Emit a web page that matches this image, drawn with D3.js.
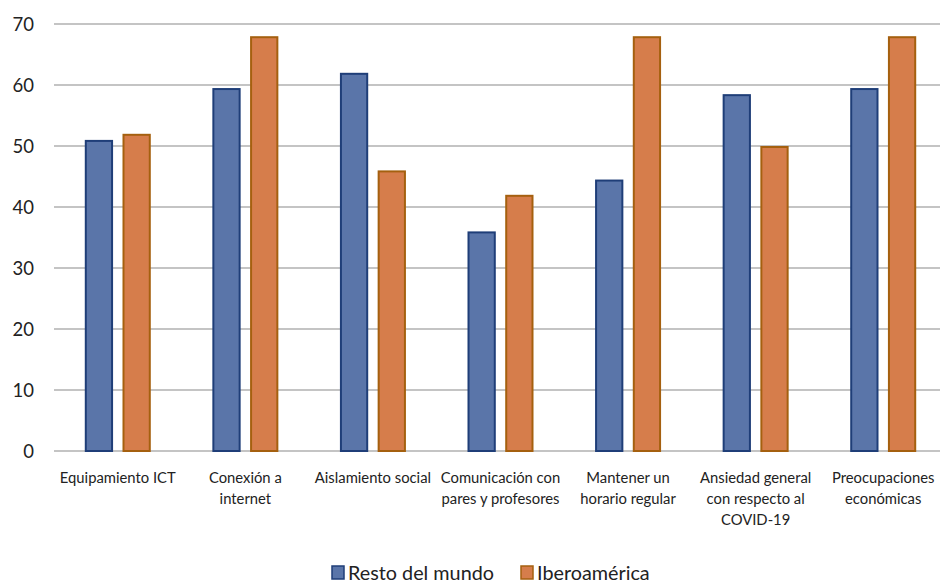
<!DOCTYPE html>
<meta charset="utf-8">
<style>
  body { margin: 0; background: #fff; }
  text { font-family: Lato, "Open Sans", sans-serif; fill: #222; }
  .grid line { stroke: #c4c4c4; stroke-width: 2px; }
</style>
<svg width="940" height="585"></svg>
<script src="https://d3js.org/d3.v7.min.js"></script>
<script>
  var categories = [
    "Equipamiento ICT",
    "Conexión a\ninternet",
    "Aislamiento social",
    "Comunicación con\npares y profesores",
    "Mantener un\nhorario regular",
    "Ansiedad general\ncon respecto al\nCOVID-19",
    "Preocupaciones\neconómicas"
  ];
  var series = ["Resto del mundo", "Iberoamérica"];
  var restoDelMundo = [51, 59.5, 62, 36, 44.5, 58.5, 59.5];
  var iberoamerica = [52, 68, 46, 42, 68, 50, 68];
  var yTicks = [0, 10, 20, 30, 40, 50, 60, 70];

  var fills = ["#5a75a9", "#d67d4b"];
  var strokes = ["#1f3e78", "#a5600f"];

  var svg = d3.select("svg"),
    margin = { left: 54, right: -7, top: 24, bottom: 134 },
    width = +svg.attr("width") - margin.left - margin.right,
    height = +svg.attr("height") - margin.top - margin.bottom;

  var g = svg.append("g").attr("transform", "translate(" + margin.left + "," + margin.top + ")");

  var x0 = d3.scaleBand().domain(d3.range(categories.length)).range([0, width]);
  var x1 = d3.scaleBand().domain([0, 1]).range([x0.bandwidth() / 2 - 33, x0.bandwidth() / 2 + 33]).paddingInner(0.25);
  var y = d3.scaleLinear().domain([0, 70]).range([height, 0]);

  // gridlines
  g.append("g").attr("class", "grid")
    .selectAll("line").data(yTicks).enter().append("line")
    .attr("x1", 0).attr("x2", width + 10)
    .attr("y1", function(d) { return y(d); })
    .attr("y2", function(d) { return y(d); });

  // y tick labels
  var yAxis = g.append("g").call(d3.axisLeft(y).tickValues(yTicks).tickSize(0).tickPadding(20));
  yAxis.select(".domain").remove();
  yAxis.selectAll("text").style("font-size", "18.5px").attr("fill", "#222").attr("dy", "0.35em");

  var data = categories.map(function(c, i) { return [restoDelMundo[i], iberoamerica[i]]; });

  var groups = g.selectAll("g.cat").data(data).enter().append("g")
    .attr("class", "cat")
    .attr("transform", function(d, i) { return "translate(" + x0(i) + ",0)"; });

  groups.selectAll("rect").data(function(d) { return d; }).enter().append("rect")
    .attr("x", function(d, j) { return x1(j) + 1; })
    .attr("width", x1.bandwidth() - 2)
    .attr("y", function(d) { return y(d) + 1; })
    .attr("height", function(d) { return y(0) - y(d) - 1; })
    .attr("fill", function(d, j) { return fills[j]; })
    .attr("stroke", function(d, j) { return strokes[j]; })
    .attr("stroke-width", 2);

  // category labels
  var labels = g.append("g").selectAll("text").data(categories).enter().append("text")
    .attr("text-anchor", "middle")
    .attr("transform", function(d, i) { return "translate(" + (x0(i) + x0.bandwidth() / 2) + "," + (height + 32) + ")"; })
    .style("font-size", "14.8px");
  labels.each(function(d) {
    var t = d3.select(this);
    d.split("\n").forEach(function(line, k) {
      t.append("tspan").attr("x", 0).attr("y", k * 21).text(line);
    });
  });

  // legend
  var legendX = [332, 521];
  var legend = svg.append("g").selectAll("g").data(series).enter().append("g")
    .attr("transform", function(d, i) { return "translate(" + legendX[i] + ",566)"; });
  legend.append("rect").attr("width", 12).attr("height", 13)
    .attr("fill", function(d, i) { return fills[i]; })
    .attr("stroke", function(d, i) { return strokes[i]; }).attr("stroke-width", 1.5);
  legend.append("text").attr("x", 16).attr("y", 13.5)
    .style("font-size", "19.8px").text(function(d) { return d; });
</script>
